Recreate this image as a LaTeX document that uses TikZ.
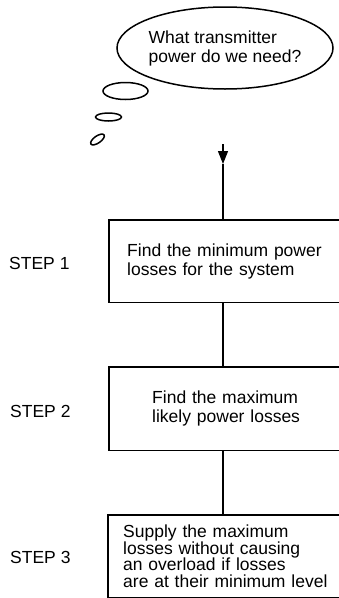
\documentclass[tikz,border=0pt]{standalone}
\usepackage{fontspec}
\setmainfont{Liberation Sans}
\usetikzlibrary{shapes.geometric,arrows.meta}
\begin{document}
\begin{tikzpicture}[x=1pt,y=-1pt,
  every node/.style={font=\fontsize{17.5}{19}\selectfont},
  line/.style={line width=1.2pt},
  stepbox/.style={anchor=north west,minimum height=82pt,inner ysep=0pt},
  boxline/.style={line width=1.2pt},
  steplabel/.style={anchor=west,inner sep=0pt},
  bubble/.style={line width=1.5pt}
]
\useasboundingbox (0,0) rectangle (339,598);
\fill[white] (0,0) rectangle (339,598);

% thought bubble
\node[draw,ellipse,line width=1.5pt,minimum width=210pt,minimum height=82pt,inner sep=0pt,align=left] (thought) at (225,48) {What transmitter\\power do we need?};
\draw[bubble] (125.5,91) ellipse [x radius=22.5pt,y radius=8.5pt];
\draw[bubble] (108.5,117) ellipse [x radius=13pt,y radius=4pt];
\draw[bubble,rotate around={35:(97.5,139.5)}] (97.5,139.5) ellipse [x radius=8pt,y radius=3.5pt];

% boxes (their right sides lie beyond the picture's edge)
\node[stepbox,inner xsep=18pt,text width=250pt,align=left] (box1) at (109,220) {Find the minimum power\\losses for the system};
\node[stepbox,inner xsep=43pt,text width=220pt,align=left,minimum height=83pt] (box2) at (109,367) {Find the maximum\\likely power losses};
\node[stepbox,inner xsep=15pt,text width=250pt,align=left,minimum height=82pt,font=\fontsize{17.5}{16.6}\selectfont] (box3) at (108,515) {Supply the maximum\\losses without causing\\an overload if losses\\are at their minimum level};
\foreach \b in {box1,box2,box3}
  \draw[boxline] (\b.north east) -- (\b.north west) -- (\b.south west) -- (\b.south east);

% step labels
\node[steplabel] (s1) at (9,263) {STEP 1};
\node[steplabel] (s2) at (10,411) {STEP 2};
\node[steplabel] (s3) at (10,557.5) {STEP 3};

% connectors
\coordinate (start) at (223,144);
\coordinate (tip) at (223,164);
\draw[line,-{Triangle[length=13pt,width=10pt]}] (start) -- (tip);
\draw[line] (tip) -- (tip |- box1.north);
\draw[line] (tip |- box1.south) -- (tip |- box2.north);
\draw[line] (tip |- box2.south) -- (tip |- box3.north);
\end{tikzpicture}
\end{document}
